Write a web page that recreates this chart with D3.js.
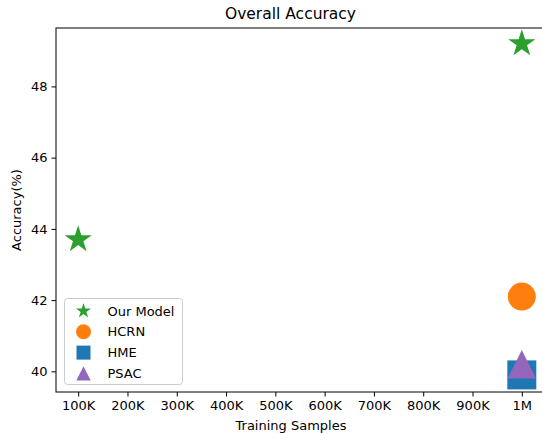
<!DOCTYPE html>
<html><head><meta charset="utf-8">
<script src="https://cdn.jsdelivr.net/npm/d3@7"></script>
<style>body{margin:0;background:#fff}svg{display:block}text{font-family:"DejaVu Sans",sans-serif;fill:#000}</style>
</head><body><svg id="c" width="542" height="433"></svg>
<script>
const seriesNames = ["Our Model","HCRN","HME","PSAC"];
const seriesColors = ["#2ca02c","#ff7f0e","#1f77b4","#9467bd"];
const seriesMarkers = ["star","circle","square","triangle"];
const ourModelX = [100000, 1000000];
const ourModelY = [43.7, 49.2];
const hcrnX = [1000000];
const hcrnY = [42.1];
const hmeX = [1000000];
const hmeY = [39.9];
const psacX = [1000000];
const psacY = [40.2];
const xTicks = [100000,200000,300000,400000,500000,600000,700000,800000,900000,1000000];
const xTickLabels = ["100K","200K","300K","400K","500K","600K","700K","800K","900K","1M"];
const yTicks = [40,42,44,46,48];

const series = [
  {x: ourModelX, y: ourModelY},
  {x: hcrnX, y: hcrnY},
  {x: hmeX, y: hmeY},
  {x: psacX, y: psacY}
];

const svg = d3.select("#c");
const L = 56, T = 28, B = 392, R = 544;
const x = d3.scaleLinear().domain([55000, 1045000]).range([L, R]);
const y = d3.scaleLinear().domain([39.42, 49.64]).range([B, T]);

// custom marker shapes (size = half-extent in px)
function markerPath(kind, s) {
  const p = d3.path();
  if (kind === "circle") { p.arc(0,0,s,0,2*Math.PI); p.closePath(); }
  else if (kind === "square") { p.rect(-s,-s,2*s,2*s); }
  else if (kind === "triangle") { p.moveTo(0,-s); p.lineTo(s,s); p.lineTo(-s,s); p.closePath(); }
  else if (kind === "star") {
    const ri = s*0.381966;
    for (let i=0;i<10;i++){
      const r = i%2===0 ? s : ri;
      const a = -Math.PI/2 + i*Math.PI/5;
      const px = r*Math.cos(a), py = r*Math.sin(a);
      if (i===0) p.moveTo(px,py); else p.lineTo(px,py);
    }
    p.closePath();
  }
  return p.toString();
}
const bigSize = {star:14.3, circle:14, square:14.5, triangle:14.2};
const smallSize = {star:7.9, circle:7.5, square:7, triangle:7.2};

// axes
const xAxis = d3.axisBottom(x).tickValues(xTicks).tickFormat((d,i)=>xTickLabels[i]).tickSize(4.5).tickPadding(4);
const gx = svg.append("g").attr("transform",`translate(0,${B})`).call(xAxis);
gx.select(".domain").remove();
gx.selectAll(".tick line").attr("stroke","#000").attr("stroke-width",1);
gx.selectAll(".tick text").attr("font-size",13).attr("font-family","DejaVu Sans").attr("fill","#000").attr("dy","0.72em");

const yAxis = d3.axisLeft(y).tickValues(yTicks).tickSize(4.5).tickPadding(4);
const gy = svg.append("g").attr("transform",`translate(${L},0)`).call(yAxis);
gy.select(".domain").remove();
gy.selectAll(".tick line").attr("stroke","#000").attr("stroke-width",1);
gy.selectAll(".tick text").attr("font-size",13).attr("font-family","DejaVu Sans").attr("fill","#000");

// spines
svg.append("rect").attr("x",L).attr("y",T).attr("width",R-L).attr("height",B-T)
  .attr("fill","none").attr("stroke","#000").attr("stroke-width",1);

// points
series.forEach((s,i)=>{
  svg.append("g").selectAll("path").data(s.x.map((xv,j)=>({x:xv,y:s.y[j]}))).join("path")
    .attr("transform",d=>`translate(${x(d.x)},${y(d.y)})`)
    .attr("d",markerPath(seriesMarkers[i], bigSize[seriesMarkers[i]]))
    .attr("fill",seriesColors[i]);
});

// legend
const lg = svg.append("g");
lg.append("rect").attr("x",64.5).attr("y",298.5).attr("width",118).attr("height",86).attr("rx",3)
  .attr("fill","#fff").attr("fill-opacity",0.8).attr("stroke","#cccccc").attr("stroke-width",1);
seriesNames.forEach((n,i)=>{
  const cy = 311 + i*20.8;
  lg.append("path").attr("transform",`translate(83.5,${cy})`)
    .attr("d",markerPath(seriesMarkers[i], smallSize[seriesMarkers[i]])).attr("fill",seriesColors[i]);
  lg.append("text").attr("x",107.5).attr("y",cy).attr("dy","0.36em").attr("font-size",13).text(n);
});

// titles
svg.append("text").attr("x",290.5).attr("y",18.6).attr("text-anchor","middle").attr("font-size",15.5).text("Overall Accuracy");
svg.append("text").attr("x",291).attr("y",430).attr("text-anchor","middle").attr("font-size",13).text("Training Samples");
svg.append("text").attr("transform","translate(21,210) rotate(-90)").attr("text-anchor","middle").attr("font-size",13).text("Accuracy(%)");
</script></body></html>
